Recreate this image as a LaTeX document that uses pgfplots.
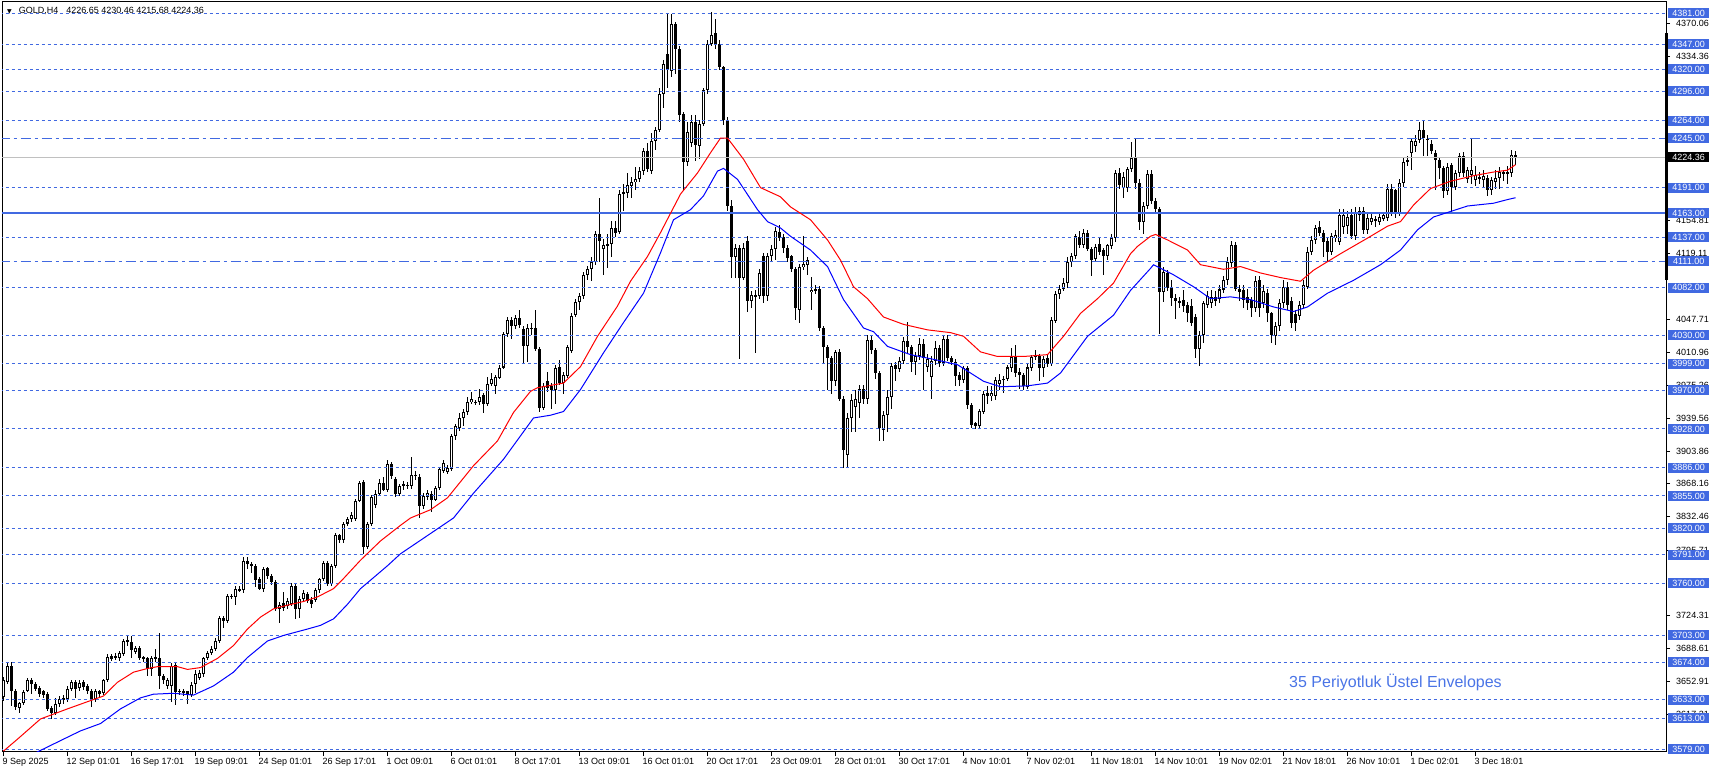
\documentclass[border=0pt]{standalone}
\usepackage{pgfplots}
\pgfplotsset{compat=1.18}
\usepackage{pgfplotstable}
\usepackage{fontspec}
\setmainfont{Liberation Sans}
\newfontfamily\dejavu{DejaVu Sans}
\definecolor{royal}{RGB}{65,105,225}
\definecolor{envtext}{RGB}{74,116,230}
\definecolor{pricegray}{RGB}{192,192,192}

\pgfplotstableread{
o h l c
3636 3658 3632 3654
3652 3674 3650 3670
3670 3674 3626 3643
3642 3645 3622 3625
3624 3631 3619 3629
3629 3644 3627 3641
3643 3657 3641 3654
3655 3657 3639 3650
3650 3652 3642 3645
3646 3648 3636 3639
3642 3644 3635 3638
3639 3641 3621 3623
3624 3626 3612 3619
3619 3635 3616 3628
3628 3637 3625 3634
3635 3638 3628 3633
3634 3648 3631 3645
3645 3655 3642 3652
3652 3654 3635 3645
3646 3654 3643 3651
3652 3654 3644 3647
3648 3650 3639 3642
3643 3645 3625 3634
3634 3645 3631 3642
3642 3644 3636 3639
3640 3656 3638 3654
3654 3683 3652 3680
3681 3683 3675 3677
3679 3684 3676 3681
3678 3686 3675 3684
3683 3699 3681 3697
3696 3702 3692 3698
3696 3702 3678 3687
3685 3692 3683 3689
3689 3692 3676 3678
3679 3681 3674 3677
3678 3680 3659 3667
3667 3681 3659 3678
3677 3688 3674 3679
3678 3706 3645 3659
3659 3661 3650 3655
3648 3657 3645 3655
3648 3673 3630 3670
3671 3673 3627 3641
3642 3645 3638 3642
3642 3645 3637 3641
3642 3643 3628 3638
3638 3652 3636 3649
3650 3665 3640 3661
3657 3665 3654 3662
3661 3680 3658 3678
3678 3686 3676 3684
3684 3692 3682 3688
3688 3700 3686 3697
3697 3724 3695 3722
3722 3724 3711 3719
3719 3748 3717 3746
3745 3748 3743 3746
3745 3757 3736 3754
3752 3757 3750 3754
3752 3789 3749 3784
3784 3789 3775 3781
3781 3783 3771 3779
3779 3781 3756 3763
3765 3767 3752 3754
3754 3778 3750 3775
3776 3778 3765 3768
3768 3770 3758 3761
3761 3763 3730 3732
3732 3739 3717 3736
3738 3750 3730 3733
3735 3744 3732 3741
3737 3760 3735 3757
3757 3760 3721 3732
3732 3746 3722 3743
3743 3753 3740 3749
3748 3750 3738 3741
3742 3745 3733 3737
3742 3755 3740 3753
3752 3766 3749 3764
3764 3784 3762 3782
3782 3784 3757 3759
3759 3781 3757 3779
3779 3815 3777 3812
3812 3814 3804 3807
3807 3827 3804 3824
3825 3832 3822 3830
3830 3837 3827 3834
3830 3852 3828 3850
3850 3871 3848 3869
3870 3872 3792 3799
3799 3827 3797 3824
3824 3856 3822 3854
3845 3861 3842 3857
3857 3873 3855 3869
3869 3876 3860 3862
3862 3894 3859 3890
3890 3892 3874 3877
3874 3876 3854 3857
3857 3868 3855 3866
3868 3871 3862 3866
3866 3870 3863 3867
3866 3897 3863 3878
3878 3882 3872 3877
3876 3879 3831 3844
3844 3858 3841 3855
3854 3862 3851 3858
3857 3860 3838 3851
3851 3866 3849 3864
3864 3886 3862 3884
3882 3894 3880 3891
3881 3889 3879 3886
3884 3922 3882 3920
3920 3933 3916 3931
3929 3945 3926 3940
3940 3950 3931 3946
3946 3963 3943 3957
3957 3968 3955 3961
3957 3960 3954 3957
3957 3972 3954 3963
3965 3967 3945 3955
3955 3985 3953 3977
3977 3989 3975 3982
3975 3987 3966 3985
3984 3998 3982 3995
3995 4034 3993 4031
4031 4050 4028 4047
4047 4050 4026 4040
4040 4052 4037 4049
4049 4058 4038 4041
4037 4040 4000 4018
4018 4042 4001 4038
4038 4043 4030 4038
4038 4058 4013 4015
4015 4017 3946 3951
3951 3978 3949 3975
3980 3990 3968 3973
3975 3978 3950 3971
3971 3998 3955 3995
3995 4003 3976 3978
3978 3990 3966 3987
3986 4020 3984 4017
4013 4054 4011 4051
4052 4070 4050 4066
4066 4076 4058 4073
4073 4099 4070 4096
4096 4106 4090 4102
4102 4115 4089 4110
4110 4144 4107 4140
4140 4180 4110 4133
4124 4135 4096 4129
4129 4140 4103 4129
4130 4155 4115 4147
4147 4155 4137 4142
4143 4188 4141 4184
4184 4195 4165 4186
4185 4207 4180 4194
4193 4203 4180 4197
4197 4213 4188 4200
4200 4214 4197 4209
4209 4234 4205 4231
4231 4240 4208 4211
4209 4250 4206 4242
4242 4257 4232 4254
4254 4300 4252 4293
4293 4330 4278 4326
4337 4380 4300 4320
4318 4380 4312 4369
4369 4372 4315 4342
4342 4345 4262 4270
4271 4273 4187 4219
4219 4262 4215 4252
4240 4270 4235 4263
4263 4270 4220 4238
4236 4265 4222 4260
4260 4300 4258 4297
4297 4352 4293 4347
4347 4382 4345 4357
4360 4375 4342 4347
4347 4352 4319 4322
4322 4324 4259 4265
4265 4268 4166 4171
4171 4178 4093 4115
4115 4130 4093 4125
4125 4128 4004 4093
4093 4131 4090 4125
4133 4138 4056 4067
4067 4078 4060 4074
4073 4080 4011 4073
4073 4102 4070 4098
4116 4120 4065 4073
4073 4120 4068 4116
4116 4128 4110 4124
4124 4148 4112 4144
4143 4150 4133 4136
4137 4140 4120 4125
4125 4128 4110 4114
4116 4118 4099 4102
4102 4104 4047 4060
4058 4108 4043 4104
4104 4138 4101 4108
4107 4115 4096 4112
4077 4094 4058 4080
4080 4085 4075 4080
4081 4084 4035 4038
4038 4040 4000 4017
4017 4020 3970 4005
4005 4007 3966 3980
3980 4014 3975 4012
4012 4015 3958 3961
3961 3964 3886 3905
3900 3945 3887 3940
3940 3966 3925 3960
3952 3970 3925 3961
3956 3976 3940 3972
3972 3976 3955 3961
3961 4030 3955 4025
4025 4030 4010 4014
4014 4016 3983 3989
3989 3991 3915 3929
3927 3948 3915 3943
3943 3970 3925 3963
3963 4000 3950 3997
3998 4001 3980 3993
3993 4006 3990 4002
4002 4028 3999 4024
4024 4045 4010 4017
4017 4020 3990 4001
4001 4012 3987 4007
4007 4027 4003 4021
4021 4026 3970 4005
3996 4010 3990 4004
3985 4008 3961 4002
4002 4024 3998 4016
4016 4020 3996 4000
4000 4030 3997 4026
4026 4030 4002 4005
4005 4007 3998 4001
4001 4004 3975 3986
3987 3990 3975 3981
3981 3997 3978 3994
3994 3997 3950 3954
3954 3956 3929 3932
3934 3936 3928 3931
3931 3950 3928 3948
3947 3969 3944 3966
3967 3975 3955 3964
3964 3975 3958 3967
3964 3985 3960 3981
3977 3988 3970 3981
3982 3986 3967 3982
3982 3998 3980 3995
3994 4016 3990 4007
4007 4020 3985 3989
3990 3995 3972 3987
3987 3989 3971 3975
3974 4000 3972 3995
3994 4009 3991 4006
4006 4014 4003 4008
4008 4010 3980 3994
3994 4008 3985 4004
4005 4010 3996 3999
3999 4050 3997 4047
4046 4078 4043 4075
4075 4085 4070 4081
4081 4092 4078 4087
4087 4115 4082 4110
4110 4120 4105 4116
4116 4141 4113 4138
4137 4144 4125 4128
4128 4146 4125 4142
4142 4145 4122 4124
4124 4126 4095 4112
4113 4130 4110 4126
4130 4136 4118 4121
4123 4125 4096 4116
4116 4130 4112 4128
4127 4140 4124 4136
4136 4210 4132 4207
4207 4212 4190 4194
4191 4208 4180 4203
4191 4214 4186 4211
4211 4241 4208 4223
4223 4245 4190 4196
4196 4200 4145 4154
4154 4175 4141 4171
4171 4210 4168 4206
4206 4210 4173 4176
4176 4180 4165 4168
4168 4170 4031 4077
4077 4104 4066 4099
4098 4101 4078 4082
4082 4090 4062 4071
4071 4075 4048 4067
4067 4072 4060 4066
4069 4080 4055 4062
4063 4066 4045 4054
4062 4070 4040 4044
4050 4053 4005 4015
4015 4035 3997 4030
4030 4068 4022 4065
4063 4078 4060 4073
4065 4080 4060 4072
4072 4078 4062 4068
4070 4085 4065 4080
4080 4095 4076 4090
4090 4115 4085 4110
4109 4133 4105 4128
4128 4132 4078 4081
4081 4085 4068 4077
4079 4085 4060 4069
4072 4080 4058 4065
4069 4072 4050 4060
4060 4095 4055 4089
4090 4095 4050 4060
4065 4085 4060 4078
4076 4080 4045 4054
4054 4056 4022 4030
4029 4045 4020 4040
4040 4070 4035 4065
4065 4090 4060 4083
4083 4088 4058 4063
4068 4072 4038 4043
4053 4058 4035 4043
4051 4068 4047 4063
4063 4090 4060 4085
4083 4126 4080 4121
4121 4138 4118 4134
4134 4150 4130 4147
4148 4155 4138 4142
4142 4145 4115 4132
4133 4136 4110 4121
4121 4142 4118 4138
4136 4145 4132 4139
4132 4168 4128 4161
4148 4168 4140 4161
4149 4165 4140 4159
4161 4168 4135 4138
4138 4170 4134 4163
4161 4170 4155 4165
4165 4170 4140 4145
4145 4162 4140 4158
4154 4162 4150 4158
4156 4160 4148 4156
4154 4163 4150 4159
4157 4165 4155 4161
4158 4195 4155 4190
4190 4195 4160 4163
4188 4190 4158 4162
4163 4200 4160 4196
4196 4224 4192 4219
4220 4225 4215 4221
4229 4245 4210 4242
4236 4248 4230 4242
4243 4262 4240 4254
4254 4264 4225 4245
4244 4248 4225 4243
4239 4243 4228 4231
4229 4232 4188 4221
4221 4223 4200 4212
4212 4215 4180 4187
4187 4218 4183 4214
4216 4218 4163 4192
4192 4210 4188 4207
4207 4229 4203 4226
4226 4230 4203 4207
4200 4213 4196 4210
4205 4244 4195 4210
4199 4215 4193 4205
4202 4208 4195 4202
4199 4210 4192 4204
4201 4205 4182 4188
4188 4203 4183 4199
4197 4210 4190 4202
4202 4213 4190 4208
4207 4210 4198 4207
4206 4215 4195 4208
4207 4232 4203 4227
4226.65 4230.46 4215.68 4224.36
}\candles

\pgfplotstableread{
x y
0 3577
3.5 3590
9.25 3612
16 3623
21.75 3632
25 3637
28.5 3652
32.5 3663
36 3667
38.5 3669
43.5 3669
46 3666
49.25 3668
53.5 3678
57.5 3692
61 3710
64.25 3723
67.5 3732
71 3736
75 3740
78.5 3745
82.5 3754
85 3765
89.25 3785
94.25 3806
99.25 3823
101.75 3831
106.75 3840
111 3853
117.5 3888
123.5 3915
127.5 3946
131.75 3969
133.5 3973
140 3978
144.25 3996
148.5 4029
153.5 4062
156.75 4089
161 4116
164.25 4142
166.75 4163
169.25 4184
173.5 4207
176.75 4229
179.25 4245
181 4245
185 4222
189.25 4191
194.25 4181
196.75 4170
201.75 4156
206 4134
209.25 4112
212.5 4083
216 4070
220 4050
225 4042
231 4036
236.75 4033
240 4029
244.25 4012
248.5 4007
255 4007
261 4009
265 4029
269.25 4054
273.5 4070
277.5 4087
281.75 4119
283.5 4127
286.75 4138
288 4140
291 4134
296 4123
299.25 4107
305 4102
309.25 4105
314.25 4098
319.25 4093
324.25 4089
327.5 4101
334.25 4119
341 4136
346 4149
349.25 4154
352.5 4172
356.75 4190
361.75 4198
367.5 4204
372.5 4208
376 4210
378 4216
}\redline

\pgfplotstableread{
x y
0 3558
15 3590
19.25 3599
24.25 3607
29.25 3623
34.25 3635
37.5 3639
42.5 3640
47.5 3638
52.5 3648
57.5 3663
61 3679
66 3697
70 3703
76 3710
79.25 3714
82.5 3721
86 3737
89.25 3754
92.5 3766
96 3779
99.25 3792
112.5 3831
117.5 3858
125 3895
132.5 3940
136.75 3943
140 3947
144.25 3971
150 4011
155 4044
160 4076
164.25 4120
167.5 4156
171.75 4167
175 4182
178.5 4209
180 4212
183.5 4200
188.5 4167
191 4154
194.25 4147
196.75 4138
201.75 4123
206 4105
210 4069
215 4038
217.5 4034
221 4018
226.75 4009
233.5 4003
238.5 3998
241.75 3989
245 3980
249.25 3974
256 3975
261 3978
264.25 3989
271 4029
277.5 4052
281.75 4079
286.75 4103
287.5 4107
292.5 4096
297.5 4083
301.75 4070
306.75 4072
311.75 4069
317.5 4061
322.5 4056
326 4061
331 4076
337.5 4090
344.25 4107
349.25 4123
353.5 4145
357.5 4159
361.75 4165
366 4171
372.5 4174
376 4178
378 4180
}\blueline

\begin{document}
\begin{tikzpicture}
\path[use as bounding box] (0,0) rectangle (1712bp,773bp);
\begin{axis}[
  at={(2bp,21bp)}, anchor=south west,
  scale only axis, width=1664bp, height=750bp,
  xmin=-0.375, xmax=415.625, ymin=3576.0, ymax=4393.3,
  axis line style={line width=1bp, black},
  clip mode=individual,
  tick label style={font=\fontsize{9bp}{10bp}\selectfont, black},
  tick align=outside,
  major tick length=4bp,
  tick style={black, line width=1bp},
  xtick={0,16,...,368},
  xticklabels={9 Sep 2025,12 Sep 01:01,16 Sep 17:01,19 Sep 09:01,24 Sep 01:01,26 Sep 17:01,1 Oct 09:01,6 Oct 01:01,8 Oct 17:01,13 Oct 09:01,16 Oct 01:01,20 Oct 17:01,23 Oct 09:01,28 Oct 01:01,30 Oct 17:01,4 Nov 10:01,7 Nov 02:01,11 Nov 18:01,14 Nov 10:01,19 Nov 02:01,21 Nov 18:01,26 Nov 10:01,1 Dec 02:01,3 Dec 18:01},
  xtick pos=left,
  xticklabel style={anchor=north west, inner sep=0pt, xshift=-1bp, yshift=-2bp},
  ytick={3617.21,3652.91,3688.61,3724.31,3795.71,3832.46,3868.16,3903.86,3939.56,3975.26,4010.96,4047.71,4119.11,4154.81,4334.36,4370.06},
  yticklabels={3617.21,3652.91,3688.61,3724.31,3795.71,3832.46,3868.16,3903.86,3939.56,3975.26,4010.96,4047.71,4119.11,4154.81,4334.36,4370.06},
  ytick pos=right,
  yticklabel pos=right,
  yticklabel style={anchor=west, inner sep=0pt, xshift=6bp},
  extra y ticks={4381,4347,4320,4296,4264,4245,4191,4163,4137,4111,4082,4030,3999,3970,3928,3886,3855,3820,3791,3760,3703,3674,3633,3613,3579},
  extra y tick labels={4381.00,4347.00,4320.00,4296.00,4264.00,4245.00,4191.00,4163.00,4137.00,4111.00,4082.00,4030.00,3999.00,3970.00,3928.00,3886.00,3855.00,3820.00,3791.00,3760.00,3703.00,3674.00,3633.00,3613.00,3579.00},
  extra y tick style={major tick length=0pt, yticklabel style={fill=royal, text=white, minimum width=41bp, minimum height=10bp, inner sep=0pt, xshift=-4bp}},
]
% candle wicks
\addplot[forget plot, draw=none, mark=none,
  error bars/.cd, y dir=both, y explicit, error mark=none,
  error bar style={draw=black, line width=1bp}]
  table[x expr=\coordindex, y expr=(\thisrow{h}+\thisrow{l})/2, y error expr=(\thisrow{h}-\thisrow{l})/2] {\candles};
% candle bodies
\addplot[forget plot, draw=none, mark=none,
  error bars/.cd, y dir=both, y explicit, error mark=none,
  error bar style={draw=black, line width=3bp}]
  table[x expr=\coordindex, y expr=(\thisrow{o}+\thisrow{c})/2, y error expr={max(abs(\thisrow{o}-\thisrow{c})/2,0.55)}] {\candles};
% hollow interior of bullish candles
\addplot[forget plot, draw=none, mark=none,
  error bars/.cd, y dir=both, y explicit, error mark=none,
  error bar style={draw=white, line width=1bp}]
  table[x expr=\coordindex, y expr=(\thisrow{o}+\thisrow{c})/2, y error expr={(\thisrow{c}>\thisrow{o}+2.4) ? ((\thisrow{c}-\thisrow{o})/2-1.1) : 0}] {\candles};

% horizontal levels
\pgfplotsinvokeforeach{4381,4347,4320,4296,4264,4191,4137,4082,4030,3999,3970,3928,3886,3855,3820,3791,3760,3703,3674,3633,3613,3579}{
  \addplot[forget plot, royal, line width=1bp, dash pattern=on 3bp off 3bp] coordinates {(-1,#1) (420,#1)};
}
\pgfplotsinvokeforeach{4245,4111}{
  \addplot[forget plot, royal, line width=1bp, dash pattern=on 10bp off 4bp on 3bp off 4bp] coordinates {(-1,#1) (420,#1)};
}
\addplot[forget plot, royal, line width=2bp] coordinates {(-1,4163) (420,4163)};
\addplot[forget plot, pricegray, line width=1bp] coordinates {(-1,4224.36) (420,4224.36)};

% envelopes
\addplot[forget plot, red, line width=1bp] table[x=x, y=y] {\redline};
\addplot[forget plot, blue, line width=1bp] table[x=x, y=y] {\blueline};

% right spine marker and current price box
\draw[black, line width=3bp] (axis cs:415.625,4359.5) -- (axis cs:415.625,4090.4);
\node[fill=black, text=white, minimum width=41bp, minimum height=10bp, inner sep=0pt, anchor=west,
  font=\fontsize{9bp}{10bp}\selectfont] at ([xshift=2bp]axis cs:415.625,4224.36) {4224.36};
\end{axis}
\node[anchor=base west, inner sep=0pt, font=\fontsize{9bp}{10bp}\selectfont] at (7bp,759.7bp)
  {{\dejavu\fontsize{6bp}{6bp}\selectfont ▼}\hspace{7bp}GOLD,H4\hspace{8bp}4226.65 4230.46 4215.68 4224.36};
\node[anchor=base west, inner sep=0pt, text=envtext, font=\fontsize{16bp}{18bp}\selectfont] at (1289bp,85.3bp)
  {35 Periyotluk Üstel Envelopes};
\end{tikzpicture}
\end{document}
